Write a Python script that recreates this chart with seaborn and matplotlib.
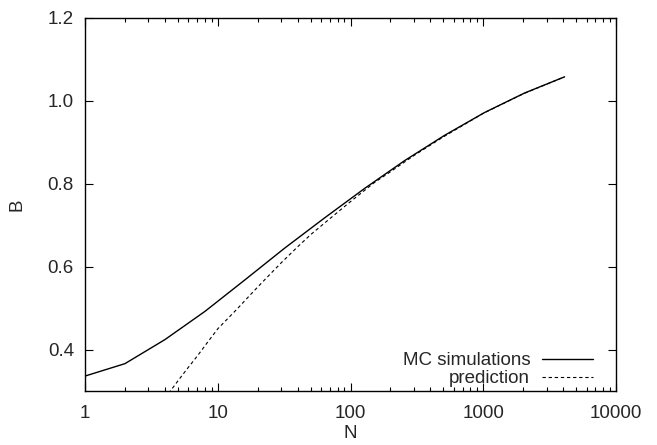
import numpy as np
import pandas as pd
import matplotlib
matplotlib.use("Agg")
import matplotlib.pyplot as plt
import matplotlib.ticker as mticker
import seaborn as sns

# ---- data ----
mc_N = [1, 2, 4, 8, 16, 32, 64, 128, 256, 512, 1024, 2048, 4096]
mc_B = [0.336, 0.366, 0.424, 0.492, 0.568, 0.645, 0.718, 0.789, 0.856,
        0.917, 0.972, 1.019, 1.058]

pred_N = [4, 4.4, 5, 6, 7, 8, 10, 12, 14, 17, 20, 25, 30, 40, 50, 70, 100,
          150, 200, 300, 500, 1000, 2000, 4096]
pred_B = [0.283, 0.300, 0.324, 0.357, 0.384, 0.409, 0.450, 0.476, 0.498,
          0.527, 0.551, 0.583, 0.609, 0.648, 0.677, 0.716, 0.757, 0.802,
          0.829, 0.868, 0.913, 0.970, 1.017, 1.058]

labels = ["MC simulations", "prediction"]
x_ticks = [1, 10, 100, 1000, 10000]
y_ticks = [0.4, 0.6, 0.8, 1.0, 1.2]

FS = 13.5

sns.set_style("ticks")
plt.rcParams["font.family"] = ["Liberation Sans", "DejaVu Sans"]

fig = plt.figure(figsize=(6.57, 4.45), dpi=100)
ax = fig.add_axes([85 / 657, 1 - 391 / 445, 531 / 657, 373 / 445])

df_mc = pd.DataFrame({"N": mc_N, "B": mc_B})
df_pr = pd.DataFrame({"N": pred_N, "B": pred_B})

sns.lineplot(data=df_mc, x="N", y="B", ax=ax, color="black", lw=1.0,
             label=labels[0])
sns.lineplot(data=df_pr, x="N", y="B", ax=ax, color="black", lw=0.8,
             linestyle=(0, (3, 2.5)), label=labels[1])

ax.set_xscale("log")
ax.set_xlim(1, 10000)
ax.set_ylim(0.3, 1.2)
ax.xaxis.set_major_locator(mticker.FixedLocator(x_ticks))
ax.xaxis.set_major_formatter(mticker.FixedFormatter([str(v) for v in x_ticks]))
ax.xaxis.set_minor_locator(mticker.LogLocator(base=10, subs=np.arange(2, 10)))
ax.xaxis.set_minor_formatter(mticker.NullFormatter())
ax.yaxis.set_major_locator(mticker.FixedLocator(y_ticks))
ax.yaxis.set_major_formatter(mticker.FormatStrFormatter("%.1f"))

for s in ax.spines.values():
    s.set_visible(True)
    s.set_color("black")
    s.set_linewidth(1.0)

ax.tick_params(which="both", direction="in", top=True, right=True,
               color="black", width=0.8)
ax.tick_params(which="major", length=6, labelsize=FS)
ax.tick_params(which="minor", length=3)
ax.tick_params(axis="y", which="major", pad=8)
ax.tick_params(axis="x", which="major", pad=10)

ax.set_xlabel("N", fontsize=FS, labelpad=2)
ax.set_ylabel("B", fontsize=FS, labelpad=16)

leg = ax.legend(loc="lower right", bbox_to_anchor=(0.957, 0.01),
                frameon=False, markerfirst=False, fontsize=FS,
                handlelength=2.72, handletextpad=0.64, labelspacing=0.05,
                borderpad=0, borderaxespad=0)

fig.savefig("out.png", dpi=100)
